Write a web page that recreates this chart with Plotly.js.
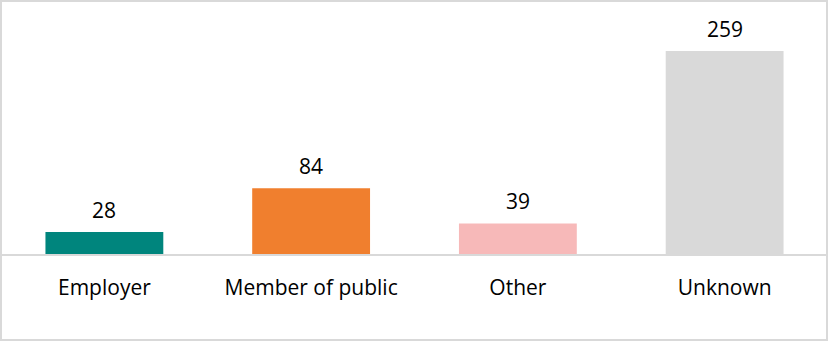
<!DOCTYPE html>
<html>
<head>
<meta charset="utf-8">
<script src="https://cdn.plot.ly/plotly-3.0.1.min.js"></script>
<style>
  html, body { margin: 0; padding: 0; background: #fff; }
  #chart { position: absolute; left: 0; top: 0; width: 829px; height: 342px; }
  #frame { position: absolute; left: 0; top: 0; width: 828px; height: 341px; box-sizing: border-box; border: 2px solid #D9D9D9; pointer-events: none; }
</style>
</head>
<body>
<div id="chart"></div>
<div id="frame"></div>
<script>
const categories = ["Employer", "Member of public", "Other", "Unknown"];
const values = [28, 84, 39, 259];
const barColors = ["#00857D", "#F07F2E", "#F7B9B9", "#D9D9D9"];

const font = { family: "Open Sans, Noto Sans, sans-serif", size: 21, color: "#000000" };

const trace = {
  type: "bar",
  x: categories,
  y: values,
  marker: { color: barColors },
  hoverinfo: "none"
};

const annotations = categories.map((c, i) => ({
  x: c, y: values[i], xref: "x", yref: "y",
  text: String(values[i]),
  showarrow: false, yanchor: "bottom", yshift: 6,
  font: font
}));

const layout = {
  width: 829, height: 342,
  margin: { l: 1, r: 1, t: 19, b: 88 },
  paper_bgcolor: "#ffffff",
  plot_bgcolor: "#ffffff",
  bargap: 0.43,
  showlegend: false,
  font: font,
  xaxis: {
    type: "category",
    showline: true, linecolor: "#D9D9D9", linewidth: 2,
    ticks: "", ticklabelstandoff: 14,
    tickfont: font,
    showgrid: false, zeroline: false
  },
  yaxis: {
    range: [0, 300],
    visible: false,
    showgrid: false, zeroline: false
  },
  annotations: annotations
};

Plotly.newPlot("chart", [trace], layout, { displayModeBar: false, staticPlot: true });
</script>
</body>
</html>
